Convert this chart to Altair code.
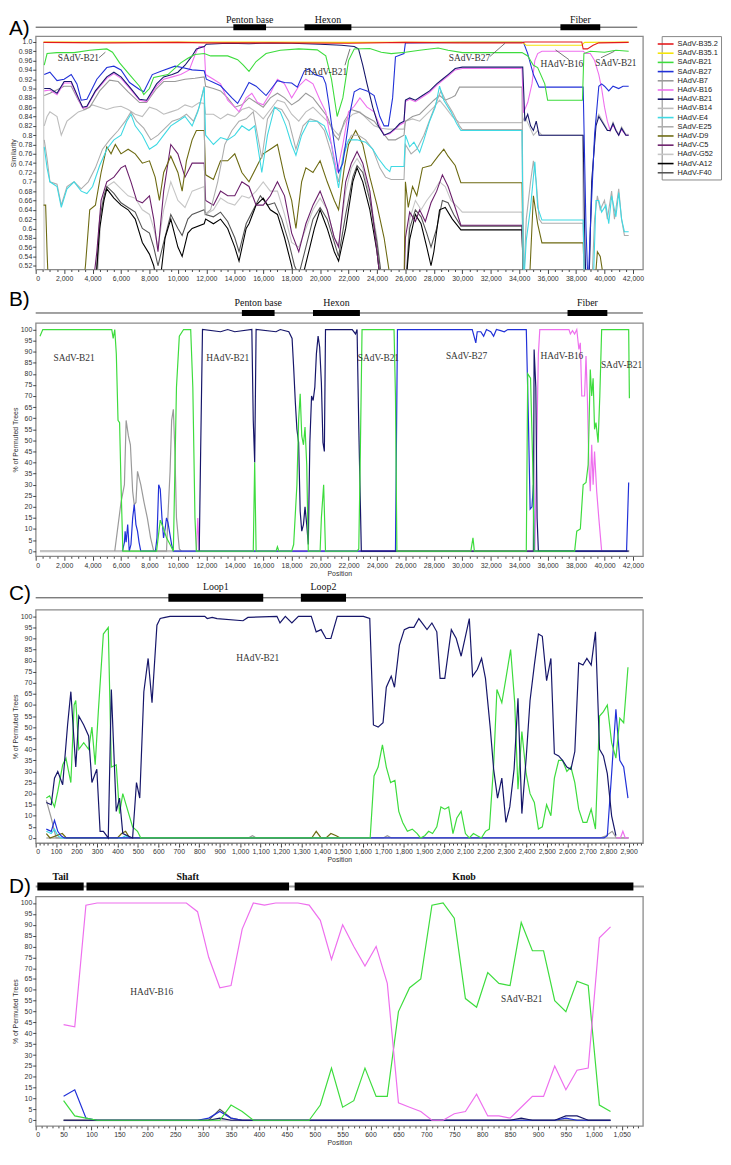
import altair as alt
import pandas as pd

SERIES = ["SAdV-B35.2", "SAdV-B35.1", "SAdV-B21", "SAdV-B27", "HAdV-B7", "HAdV-B16",
          "HAdV-B21", "HAdV-B14", "HAdV-E4", "SAdV-E25", "HAdV-D9", "HAdV-C5",
          "HAdV-G52", "HAdV-A12", "HAdV-F40"]
COLORS = ["#e41a1c", "#f4e40a", "#3ddc3d", "#2030d8", "#9a9a9a", "#ee6fee",
          "#16166a", "#bdbdbd", "#3fd9e3", "#adadad", "#6d6a12", "#6b1f6b",
          "#c6c6c6", "#000000", "#555555"]

# ---------------- Panel A (x in kb, similarity) ----------------
A_SADV_B35_2 = [(0.55, 0.999), (5, 0.998), (10, 0.999), (12, 0.998), (17, 0.998), (22, 0.997), (26, 0.999),
                (30, 0.998), (34.2, 0.998), (34.4, 1.0), (38.4, 1.0), (38.5, 0.985), (38.8, 0.985),
                (39.2, 0.993), (39.6, 0.998), (41.7, 0.999)]
A_SADV_B35_1 = [(0.55, 1.0), (12, 1.0), (22, 0.999), (34.2, 1.0), (34.5, 0.993), (38.4, 0.993),
                (38.6, 0.999), (41.7, 1.0)]
A_SADV_B21 = [(0.6, 0.95), (0.8, 0.975), (1.5, 0.977), (2.7, 0.977), (3.8, 0.982), (5.0, 0.985), (5.4, 0.978),
              (5.9, 0.955), (6.6, 0.93), (7.3, 0.905), (7.6, 0.887), (8.0, 0.9), (8.3, 0.924), (9.3, 0.93),
              (10.2, 0.955), (10.7, 0.965), (11.2, 0.973), (11.85, 0.975), (12.3, 0.97), (13.5, 0.97),
              (14.2, 0.962), (14.6, 0.95), (15.0, 0.937), (15.5, 0.958), (16.2, 0.975), (17.2, 0.982),
              (18.5, 0.985), (19.8, 0.983), (20.4, 0.97), (20.8, 0.92), (21.2, 0.84), (21.6, 0.88),
              (22.0, 0.96), (22.4, 0.985), (23.5, 0.986), (24.3, 0.978), (25.0, 0.975), (26.0, 0.978),
              (27.0, 0.982), (28.3, 0.987), (29.0, 0.982), (30.0, 0.977), (34.2, 0.977), (34.6, 0.97),
              (35.0, 0.95), (35.3, 0.945), (35.8, 0.91), (36.0, 0.875), (38.45, 0.875), (38.55, 0.975),
              (39.0, 0.98), (40.0, 0.978), (40.8, 0.982), (41.7, 0.98)]
A_SADV_B27 = [(0.6, 0.93), (1.0, 0.935), (1.5, 0.917), (2.0, 0.92), (2.5, 0.93), (2.9, 0.91), (3.2, 0.875),
              (3.6, 0.877), (4.3, 0.92), (5.0, 0.945), (5.5, 0.948), (6.0, 0.94), (6.6, 0.913), (7.3, 0.898),
              (7.6, 0.893), (8.2, 0.93), (8.9, 0.938), (9.8, 0.948), (10.3, 0.945), (11.0, 0.94),
              (11.85, 0.938), (12.0, 0.92), (13.0, 0.906), (13.8, 0.88), (14.2, 0.868), (14.6, 0.89),
              (15.0, 0.913), (15.5, 0.905), (16.2, 0.885), (16.7, 0.905), (17.0, 0.917), (17.5, 0.913),
              (18.0, 0.912), (18.4, 0.903), (18.9, 0.938), (19.2, 0.942), (19.6, 0.93), (20.2, 0.925),
              (20.4, 0.91), (20.6, 0.87), (21.0, 0.78), (21.3, 0.72), (21.6, 0.74), (22.1, 0.848),
              (22.4, 0.893), (22.8, 0.9), (23.3, 0.895), (23.8, 0.885), (24.2, 0.84), (24.5, 0.82),
              (24.8, 0.82), (25.1, 0.88), (25.3, 0.968), (25.9, 0.975), (26.0, 0.998), (30, 0.999),
              (34.3, 0.999), (34.6, 0.975), (35.0, 0.93), (35.4, 0.903), (38.5, 0.903), (38.7, 0.6),
              (38.85, 0.47), (39.0, 0.6), (39.3, 0.8), (39.6, 0.905), (39.8, 0.91), (40.0, 0.905),
              (40.3, 0.895), (40.6, 0.905), (41.0, 0.9), (41.3, 0.905), (41.7, 0.905)]
A_HADV_B21 = [(0.6, 0.90), (1.0, 0.90), (1.5, 0.89), (2.0, 0.915), (2.5, 0.915), (3.0, 0.88), (3.3, 0.86),
              (3.6, 0.862), (4.2, 0.895), (5.0, 0.925), (5.5, 0.935), (6.0, 0.925), (6.7, 0.90), (7.3, 0.877),
              (7.8, 0.875), (8.5, 0.91), (9.0, 0.925), (9.6, 0.93), (10.0, 0.935), (10.5, 0.95), (11.0, 0.97),
              (11.3, 0.985), (11.85, 0.99), (12.0, 0.995), (13.5, 0.997), (15, 0.996), (16.5, 0.998),
              (18.0, 0.997), (20, 0.995), (21.5, 0.993), (22.4, 0.99), (22.7, 0.985), (23.0, 0.95),
              (23.3, 0.91), (23.7, 0.86), (24.1, 0.82), (24.5, 0.80), (24.9, 0.805), (25.3, 0.815),
              (25.6, 0.825), (25.9, 0.83), (26.0, 0.875), (26.3, 0.88), (26.7, 0.875), (27.2, 0.885),
              (27.7, 0.895), (28.2, 0.91), (28.6, 0.92), (29.0, 0.93), (29.5, 0.943), (30, 0.946),
              (34.25, 0.946), (34.4, 0.83), (34.6, 0.845), (34.8, 0.82), (35.0, 0.81), (35.2, 0.83),
              (35.4, 0.80), (35.6, 0.80), (38.5, 0.80), (38.6, 0.6), (38.7, 0.47), (38.9, 0.47), (39.1, 0.7),
              (39.4, 0.82), (39.6, 0.84), (39.9, 0.825), (40.2, 0.81), (40.4, 0.81), (40.6, 0.825),
              (40.8, 0.81), (41.0, 0.80), (41.2, 0.815), (41.5, 0.80), (41.7, 0.80)]
A_HADV_B16 = [(0.6, 0.895), (1.0, 0.897), (1.5, 0.887), (2.0, 0.912), (2.5, 0.912), (3.0, 0.877), (3.3, 0.858),
              (3.6, 0.86), (4.2, 0.893), (5.0, 0.922), (5.5, 0.932), (6.0, 0.922), (6.7, 0.897), (7.3, 0.875),
              (7.8, 0.872), (8.5, 0.905), (9.0, 0.92), (9.6, 0.925), (10.2, 0.93), (10.8, 0.94), (11.3, 0.98),
              (11.5, 0.99), (11.85, 0.99), (11.95, 0.93), (12.5, 0.92), (13.0, 0.91), (13.5, 0.875),
              (14.0, 0.86), (14.3, 0.85), (14.8, 0.88), (15.2, 0.89), (15.6, 0.87), (16.0, 0.865),
              (16.5, 0.89), (17.0, 0.92), (17.5, 0.91), (18.0, 0.88), (18.5, 0.905), (19.0, 0.92),
              (19.5, 0.91), (20.0, 0.875), (20.4, 0.85), (20.8, 0.78), (21.2, 0.72), (21.6, 0.78),
              (22.0, 0.85), (22.4, 0.862), (22.8, 0.88), (23.3, 0.86), (23.8, 0.85), (24.2, 0.82),
              (24.5, 0.80), (24.9, 0.803), (25.3, 0.813), (25.6, 0.822), (25.9, 0.827), (26.0, 0.872),
              (26.3, 0.877), (26.7, 0.872), (27.2, 0.882), (27.7, 0.892), (28.2, 0.907), (28.6, 0.917),
              (29.0, 0.927), (29.5, 0.94), (30, 0.943), (34.2, 0.943), (34.3, 0.848), (34.6, 0.87),
              (34.9, 0.91), (35.1, 0.96), (35.3, 0.975), (35.6, 0.98), (38.5, 0.98), (38.7, 0.975),
              (39.0, 0.975), (39.3, 0.96), (39.6, 0.93), (39.8, 0.9), (40.0, 0.86), (40.2, 0.83),
              (40.4, 0.81), (40.6, 0.822), (40.8, 0.81), (41.0, 0.80), (41.2, 0.812), (41.5, 0.80), (41.7, 0.80)]
A_HADV_B7 = [(0.6, 0.885), (1.0, 0.89), (2.0, 0.905), (2.5, 0.905), (3.0, 0.875), (3.4, 0.855), (3.8, 0.86),
             (4.5, 0.895), (5.2, 0.918), (5.8, 0.915), (6.5, 0.893), (7.3, 0.87), (7.8, 0.87), (8.5, 0.9),
             (9.0, 0.915), (9.8, 0.915), (10.5, 0.92), (11.2, 0.922), (11.85, 0.925), (11.95, 0.905),
             (12.5, 0.90), (13.0, 0.895), (13.5, 0.88), (14.0, 0.86), (14.5, 0.865), (15.0, 0.88),
             (15.5, 0.87), (16.0, 0.86), (16.5, 0.88), (17.0, 0.89), (17.5, 0.88), (18.0, 0.865),
             (18.5, 0.875), (19.0, 0.89), (19.5, 0.88), (20.0, 0.86), (20.5, 0.84), (21.0, 0.80),
             (21.3, 0.79), (21.7, 0.83), (22.2, 0.855), (22.7, 0.85), (23.2, 0.84), (23.8, 0.83),
             (24.3, 0.81), (24.8, 0.79), (25.3, 0.79), (25.9, 0.80), (26.0, 0.83), (26.5, 0.84),
             (27.0, 0.845), (27.5, 0.86), (28.0, 0.875), (28.4, 0.885), (28.8, 0.875), (29.2, 0.88),
             (29.5, 0.885), (29.8, 0.903), (34.2, 0.903), (34.3, 0.47), (41.7, 0.47)]
A_HADV_B14 = [(0.6, 0.82), (0.8, 0.84), (1.0, 0.85), (1.5, 0.84), (1.8, 0.80), (2.2, 0.83), (2.6, 0.84),
              (3.0, 0.85), (3.5, 0.855), (4.0, 0.865), (4.5, 0.86), (5.0, 0.855), (5.5, 0.86), (6.0, 0.862),
              (6.5, 0.855), (7.0, 0.845), (7.5, 0.84), (8.0, 0.86), (8.5, 0.855), (9.0, 0.845), (9.5, 0.85),
              (10.0, 0.855), (10.5, 0.865), (11.0, 0.86), (11.5, 0.87), (11.85, 0.868), (11.95, 0.845),
              (12.5, 0.845), (13.0, 0.835), (13.5, 0.845), (14.0, 0.84), (14.5, 0.855), (15.0, 0.86),
              (15.5, 0.85), (16.0, 0.835), (16.5, 0.855), (17.0, 0.875), (17.5, 0.87), (18.0, 0.845),
              (18.5, 0.83), (19.0, 0.85), (19.5, 0.86), (20.0, 0.845), (20.5, 0.83), (21.0, 0.81),
              (21.3, 0.80), (21.8, 0.83), (22.3, 0.845), (22.8, 0.85), (23.3, 0.835), (23.8, 0.82),
              (24.3, 0.815), (24.8, 0.813), (25.9, 0.813), (26.0, 0.83), (26.5, 0.835), (27.0, 0.83),
              (27.5, 0.845), (28.0, 0.86), (28.4, 0.875), (28.8, 0.86), (29.3, 0.84), (29.8, 0.827),
              (34.2, 0.827), (34.4, 0.84), (34.7, 0.82), (35.0, 0.80), (35.3, 0.81), (35.6, 0.80),
              (38.45, 0.80), (38.55, 0.47), (38.9, 0.47), (39.1, 0.7), (39.4, 0.83), (39.6, 0.845),
              (39.9, 0.828), (40.2, 0.812), (40.4, 0.808), (40.6, 0.828), (40.8, 0.812), (41.0, 0.802),
              (41.2, 0.818), (41.5, 0.802), (41.7, 0.802)]
A_HADV_E4 = [(0.6, 0.775), (0.8, 0.73), (1.0, 0.70), (1.5, 0.69), (1.8, 0.645), (2.2, 0.685), (2.7, 0.70),
             (3.2, 0.68), (3.6, 0.675), (4.0, 0.69), (4.5, 0.735), (5.0, 0.77), (5.5, 0.79), (6.0, 0.80),
             (6.4, 0.83), (6.7, 0.845), (7.0, 0.82), (7.5, 0.80), (8.0, 0.77), (8.5, 0.78), (9.0, 0.80),
             (9.5, 0.82), (10.0, 0.83), (10.5, 0.84), (11.0, 0.82), (11.4, 0.85), (11.85, 0.903),
             (11.95, 0.80), (12.5, 0.78), (13.0, 0.795), (13.5, 0.79), (14.0, 0.80), (14.5, 0.82),
             (15.0, 0.81), (15.4, 0.82), (15.9, 0.72), (16.3, 0.80), (16.8, 0.86), (17.2, 0.85),
             (17.6, 0.82), (18.0, 0.78), (18.3, 0.757), (18.7, 0.80), (19.2, 0.83), (19.8, 0.83),
             (20.3, 0.82), (20.8, 0.78), (21.1, 0.72), (21.3, 0.687), (21.6, 0.75), (22.0, 0.79),
             (22.6, 0.79), (23.2, 0.785), (23.7, 0.77), (24.1, 0.75), (24.6, 0.73), (24.9, 0.722),
             (25.0, 0.733), (25.9, 0.733), (26.0, 0.80), (26.3, 0.775), (26.6, 0.785), (27.0, 0.763),
             (27.3, 0.79), (27.7, 0.83), (28.1, 0.86), (28.4, 0.905), (28.7, 0.875), (29.2, 0.85),
             (29.6, 0.825), (29.9, 0.81), (34.2, 0.81), (34.3, 0.47), (34.5, 0.575), (34.8, 0.645),
             (35.1, 0.743), (35.3, 0.645), (35.6, 0.618), (38.5, 0.618), (38.6, 0.47), (39.2, 0.47),
             (39.4, 0.66), (39.6, 0.66), (39.8, 0.635), (40.1, 0.65), (40.3, 0.61), (40.5, 0.67),
             (40.8, 0.625), (41.0, 0.677), (41.2, 0.62), (41.4, 0.593), (41.7, 0.593)]
A_SADV_E25 = [(0.6, 0.79), (0.8, 0.75), (1.0, 0.70), (1.5, 0.695), (1.8, 0.65), (2.2, 0.69), (2.7, 0.70),
              (3.2, 0.685), (3.7, 0.70), (4.2, 0.73), (4.7, 0.77), (5.2, 0.79), (5.8, 0.81), (6.3, 0.83),
              (6.7, 0.85), (7.1, 0.83), (7.6, 0.815), (8.1, 0.79), (8.6, 0.80), (9.1, 0.815), (9.6, 0.83),
              (10.1, 0.835), (10.6, 0.845), (11.1, 0.83), (11.5, 0.86), (11.85, 0.905), (11.9, 0.63),
              (12.3, 0.64), (12.8, 0.70), (13.3, 0.78), (13.8, 0.81), (14.3, 0.83), (14.8, 0.835),
              (15.3, 0.85), (15.9, 0.75), (16.3, 0.835), (16.8, 0.86), (17.3, 0.855), (17.8, 0.83),
              (18.3, 0.77), (18.8, 0.82), (19.3, 0.835), (19.8, 0.83), (20.3, 0.81), (20.8, 0.76),
              (21.3, 0.70), (21.7, 0.77), (22.2, 0.80), (22.7, 0.80), (23.2, 0.79), (23.7, 0.77),
              (24.2, 0.73), (24.6, 0.71), (25.0, 0.705), (25.9, 0.705), (26.0, 0.78), (26.4, 0.76),
              (26.8, 0.77), (27.3, 0.80), (27.8, 0.84), (28.3, 0.88), (28.5, 0.895), (28.9, 0.87),
              (29.3, 0.85), (29.8, 0.82), (30.0, 0.812), (34.2, 0.812), (34.3, 0.47), (34.5, 0.62),
              (34.8, 0.70), (35.0, 0.745), (35.2, 0.70), (35.4, 0.62), (35.6, 0.611), (38.5, 0.611),
              (38.6, 0.47), (39.1, 0.47), (39.3, 0.62), (39.5, 0.67), (39.7, 0.64), (40.0, 0.66),
              (40.2, 0.62), (40.5, 0.68), (40.7, 0.62), (41.0, 0.685), (41.2, 0.62), (41.4, 0.585), (41.7, 0.585)]
A_HADV_D9 = [(0.55, 0.65), (0.7, 0.65), (0.8, 0.55), (0.9, 0.47), (3.3, 0.47), (3.5, 0.52), (3.8, 0.64),
             (4.2, 0.65), (4.6, 0.72), (5.0, 0.775), (5.3, 0.76), (5.6, 0.78), (6.0, 0.76), (6.5, 0.77),
             (7.0, 0.76), (7.5, 0.74), (8.0, 0.745), (8.4, 0.71), (8.7, 0.66), (9.0, 0.72), (9.5, 0.755),
             (10.0, 0.72), (10.3, 0.68), (10.6, 0.745), (11.0, 0.79), (11.3, 0.81), (11.85, 0.81),
             (11.95, 0.715), (12.5, 0.705), (13.0, 0.745), (13.5, 0.745), (14.0, 0.76), (14.5, 0.72),
             (15.0, 0.70), (15.5, 0.73), (16.0, 0.76), (16.5, 0.77), (17.0, 0.78), (17.5, 0.71),
             (18.0, 0.66), (18.3, 0.60), (18.7, 0.70), (19.0, 0.73), (19.5, 0.72), (20.0, 0.745),
             (20.5, 0.70), (21.0, 0.66), (21.3, 0.64), (21.7, 0.73), (22.0, 0.78), (22.5, 0.81),
             (23.0, 0.78), (23.5, 0.71), (24.0, 0.65), (24.5, 0.58), (24.9, 0.50), (25.1, 0.47),
             (25.9, 0.47), (26.0, 0.70), (26.2, 0.645), (26.5, 0.69), (26.8, 0.67), (27.2, 0.73),
             (27.8, 0.735), (28.3, 0.755), (28.7, 0.77), (29.0, 0.755), (29.5, 0.735), (29.9, 0.698),
             (34.2, 0.698), (34.3, 0.47), (34.7, 0.47), (35.0, 0.67), (35.3, 0.61), (35.6, 0.569),
             (38.5, 0.569), (38.6, 0.47), (39.3, 0.47), (39.5, 0.55), (39.7, 0.54), (39.9, 0.5),
             (40.0, 0.47), (41.7, 0.47)]
A_HADV_C5 = [(4.0, 0.47), (4.3, 0.55), (4.6, 0.66), (5.0, 0.70), (5.5, 0.71), (6.0, 0.73), (6.3, 0.735),
             (6.7, 0.70), (7.1, 0.66), (7.5, 0.655), (8.0, 0.67), (8.3, 0.62), (8.6, 0.55), (9.0, 0.68),
             (9.5, 0.78), (10.0, 0.76), (10.5, 0.71), (11.0, 0.74), (11.85, 0.74), (11.95, 0.66),
             (12.5, 0.65), (13.0, 0.68), (13.5, 0.67), (14.0, 0.67), (14.5, 0.70), (15.0, 0.69),
             (15.5, 0.65), (16.0, 0.65), (16.5, 0.67), (17.0, 0.70), (17.5, 0.67), (18.0, 0.59),
             (18.5, 0.55), (19.0, 0.61), (19.5, 0.65), (20.0, 0.68), (20.5, 0.64), (21.0, 0.58),
             (21.3, 0.56), (21.8, 0.70), (22.2, 0.74), (22.6, 0.765), (23.0, 0.74), (23.5, 0.68),
             (24.0, 0.55), (24.3, 0.47), (25.9, 0.47), (26.0, 0.58), (26.3, 0.635), (26.7, 0.615),
             (27.0, 0.64), (27.4, 0.615), (27.8, 0.655), (28.2, 0.68), (28.6, 0.715), (29.0, 0.69),
             (29.5, 0.645), (29.9, 0.607), (34.2, 0.607), (34.3, 0.47), (41.7, 0.47)]
A_HADV_G52 = [(0.55, 1.0), (0.6, 0.47), (4.3, 0.47), (4.6, 0.63), (5.0, 0.69), (5.5, 0.70), (6.0, 0.685),
              (6.5, 0.67), (7.0, 0.665), (7.5, 0.64), (8.0, 0.63), (8.3, 0.60), (8.6, 0.56), (9.0, 0.64),
              (9.5, 0.70), (10.0, 0.66), (10.5, 0.645), (11.0, 0.68), (11.85, 0.69), (11.95, 0.63),
              (12.5, 0.64), (13.0, 0.665), (13.5, 0.655), (14.0, 0.65), (14.5, 0.67), (15.0, 0.665),
              (15.5, 0.68), (16.0, 0.70), (16.5, 0.68), (17.0, 0.68), (17.5, 0.63), (18.0, 0.57),
              (18.5, 0.56), (19.0, 0.60), (19.5, 0.64), (20.0, 0.665), (20.5, 0.64), (21.0, 0.58),
              (21.3, 0.565), (21.8, 0.68), (22.2, 0.73), (22.6, 0.75), (23.0, 0.73), (23.5, 0.67),
              (24.0, 0.58), (24.3, 0.50), (24.5, 0.47), (26.0, 0.47), (26.3, 0.62), (26.7, 0.66),
              (27.1, 0.64), (27.5, 0.66), (28.0, 0.68), (28.4, 0.70), (28.8, 0.69), (29.2, 0.66),
              (29.7, 0.645), (30.0, 0.635), (34.2, 0.635), (34.3, 0.47), (41.7, 0.47)]
A_HADV_A12 = [(4.2, 0.47), (4.5, 0.60), (4.8, 0.66), (5.0, 0.685), (5.5, 0.665), (6.0, 0.65), (6.5, 0.64),
              (7.0, 0.62), (7.5, 0.57), (8.0, 0.545), (8.3, 0.52), (8.6, 0.47), (8.8, 0.50), (9.1, 0.58),
              (9.5, 0.62), (10.0, 0.56), (10.3, 0.54), (10.7, 0.59), (11.0, 0.60), (11.85, 0.61),
              (11.95, 0.62), (12.5, 0.61), (13.0, 0.62), (13.5, 0.60), (14.0, 0.56), (14.3, 0.53),
              (14.8, 0.60), (15.0, 0.61), (15.5, 0.65), (16.0, 0.665), (16.5, 0.64), (17.0, 0.63),
              (17.5, 0.58), (18.0, 0.52), (18.3, 0.47), (18.8, 0.50), (19.2, 0.55), (19.6, 0.60),
              (20.0, 0.64), (20.5, 0.60), (21.0, 0.55), (21.3, 0.53), (21.8, 0.60), (22.3, 0.70),
              (22.6, 0.73), (23.0, 0.70), (23.5, 0.64), (24.0, 0.55), (24.3, 0.47), (26.0, 0.47),
              (26.3, 0.576), (26.7, 0.63), (27.1, 0.61), (27.5, 0.56), (27.8, 0.52), (28.0, 0.55),
              (28.4, 0.64), (28.8, 0.645), (29.3, 0.62), (29.9, 0.597), (34.2, 0.597), (34.3, 0.47), (41.7, 0.47)]
A_HADV_F40 = [(4.2, 0.47), (4.5, 0.62), (4.8, 0.67), (5.0, 0.69), (5.5, 0.675), (6.0, 0.655), (6.5, 0.645),
              (7.0, 0.635), (7.5, 0.60), (8.0, 0.59), (8.3, 0.56), (8.6, 0.52), (9.0, 0.57), (9.5, 0.63),
              (10.0, 0.60), (10.3, 0.585), (10.7, 0.62), (11.0, 0.63), (11.85, 0.64), (11.95, 0.63),
              (12.5, 0.625), (13.0, 0.635), (13.5, 0.615), (14.0, 0.58), (14.3, 0.55), (14.8, 0.61),
              (15.3, 0.64), (15.8, 0.67), (16.3, 0.65), (16.8, 0.655), (17.3, 0.62), (17.8, 0.57),
              (18.2, 0.52), (18.5, 0.50), (19.0, 0.56), (19.5, 0.62), (20.0, 0.645), (20.5, 0.62),
              (21.0, 0.57), (21.3, 0.54), (21.8, 0.63), (22.3, 0.71), (22.6, 0.735), (23.0, 0.72),
              (23.5, 0.66), (24.0, 0.57), (24.3, 0.5), (24.5, 0.47), (26.0, 0.47), (26.3, 0.60),
              (26.7, 0.64), (27.1, 0.625), (27.5, 0.59), (27.8, 0.56), (28.2, 0.60), (28.6, 0.66),
              (29.0, 0.655), (29.4, 0.63), (29.9, 0.605), (34.2, 0.605), (34.3, 0.47), (41.7, 0.47)]

A_DRAW = [("HAdV-G52", A_HADV_G52), ("HAdV-F40", A_HADV_F40), ("HAdV-A12", A_HADV_A12),
          ("HAdV-C5", A_HADV_C5), ("HAdV-D9", A_HADV_D9), ("HAdV-B14", A_HADV_B14),
          ("HAdV-B7", A_HADV_B7), ("SAdV-E25", A_SADV_E25), ("HAdV-E4", A_HADV_E4),
          ("HAdV-B16", A_HADV_B16), ("HAdV-B21", A_HADV_B21), ("SAdV-B27", A_SADV_B27),
          ("SAdV-B21", A_SADV_B21), ("SAdV-B35.1", A_SADV_B35_1), ("SAdV-B35.2", A_SADV_B35_2)]

A_GENES = ["Penton base", "Hexon", "Fiber"]
A_GENE_START = [13.9, 18.9, 36.9]
A_GENE_END = [16.2, 22.2, 39.7]
A_TRACK = [0.0, 42.3]
A_LABEL_TEXT = ["SAdV-B21", "HAdV-B21", "SAdV-B27", "HAdV-B16", "SAdV-B21"]
A_LABEL_X = [3.0, 20.4, 30.5, 37.0, 40.8]
A_LABEL_Y = [0.966, 0.935, 0.966, 0.952, 0.955]
A_LEAD_X1 = [4.45, 21.75, 31.95, 36.55, 39.75]
A_LEAD_Y1 = [0.966, 0.950, 0.969, 0.983, 0.966]
A_LEAD_X2 = [4.9, 22.1, 33.0, 37.5, 40.7]
A_LEAD_Y2 = [0.978, 0.985, 0.997, 0.962, 0.980]

# ---------------- Panel B (x in kb, % permuted trees) ----------------
B_SADV_B21 = [(0.3, 97), (0.5, 100), (5.35, 100), (5.45, 96), (5.56, 100), (5.67, 89), (5.79, 59), (5.9, 58),
              (6.0, 30), (6.13, 0), (8.5, 0), (8.76, 14), (9.0, 10), (9.2, 6), (9.45, 3), (9.68, 0),
              (9.9, 74), (10.1, 97), (10.4, 100), (10.9, 100), (11.05, 74), (11.2, 15), (11.3, 0),
              (15.3, 0), (15.4, 40), (15.5, 0), (16.9, 0), (17.0, 2), (17.1, 0), (18.0, 0), (18.14, 3),
              (18.37, 30), (18.49, 59), (18.6, 71), (18.71, 52), (18.83, 48), (18.94, 56), (19.06, 39),
              (19.17, 0), (20.0, 0), (20.09, 15), (20.25, 30), (20.38, 0), (22.6, 0), (22.72, 1),
              (22.83, 45), (22.95, 100), (25.2, 100), (25.3, 70), (25.4, 0), (30.6, 0), (30.75, 6),
              (30.85, 0), (34.5, 0), (34.6, 80), (34.8, 78), (34.95, 40), (35.05, 0), (37.9, 0),
              (38.05, 9), (38.3, 10), (38.5, 30), (38.7, 31), (38.85, 39), (39.0, 82), (39.1, 70),
              (39.2, 78), (39.3, 55), (39.4, 58), (39.55, 49), (39.67, 70), (39.8, 100), (41.7, 100), (41.75, 69)]
B_HADV_B21 = [(11.5, 0), (11.6, 45), (11.73, 100), (13.0, 99), (13.5, 100), (14.0, 99), (15.2, 100),
              (15.3, 59), (15.4, 40), (15.5, 100), (16.9, 99), (17.2, 100), (17.8, 99), (18.03, 96),
              (18.14, 83), (18.26, 67), (18.37, 55), (18.49, 49), (18.6, 18), (18.71, 9), (18.83, 12),
              (18.94, 20), (19.06, 12), (19.17, 3), (19.28, 49), (19.4, 70), (19.51, 68), (19.63, 74),
              (19.74, 89), (19.86, 97), (19.97, 92), (20.09, 76), (20.2, 49), (20.3, 45), (20.38, 100),
              (22.26, 100), (22.49, 98), (22.6, 100), (22.72, 56), (22.9, 0), (35.0, 0), (35.05, 91),
              (35.17, 74), (35.26, 15), (35.35, 0), (41.7, 0)]
B_SADV_B27 = [(6.1, 0), (6.24, 4), (6.29, 9), (6.36, 4), (6.47, 12), (6.58, 0), (6.7, 3), (6.82, 15),
              (6.93, 21), (7.05, 12), (7.16, 9), (7.27, 4), (7.39, 0), (8.42, 0), (8.53, 6), (8.65, 30),
              (8.76, 28), (8.88, 15), (8.99, 6), (9.1, 10), (9.2, 15), (9.3, 13), (9.56, 3), (9.68, 0),
              (25.3, 0), (25.44, 100), (30.7, 100), (30.95, 94), (31.05, 99), (31.3, 99), (31.5, 97),
              (31.7, 100), (32.0, 99), (32.2, 97), (32.4, 100), (32.7, 99.5), (32.95, 99), (33.2, 100),
              (34.5, 100), (34.65, 59), (34.77, 19), (34.9, 20), (35.0, 30), (35.05, 0), (41.55, 0), (41.7, 31)]
B_HADV_B16 = [(11.3, 0), (11.4, 15), (11.5, 0), (35.1, 0), (35.35, 89), (35.45, 100), (37.5, 100),
              (37.6, 98), (37.75, 99.5), (37.9, 98), (38.05, 100), (38.2, 91), (38.3, 94), (38.4, 70),
              (38.6, 70), (38.7, 88), (38.8, 68), (38.9, 39), (39.0, 27), (39.1, 48), (39.2, 30),
              (39.3, 45), (39.45, 27), (39.6, 15), (39.8, 0)]
B_HADV_B7 = [(5.56, 0), (6.0, 22), (6.24, 30), (6.36, 59), (6.52, 52), (6.66, 48), (6.82, 27), (6.93, 21),
             (7.05, 22), (7.16, 36), (7.39, 30), (7.62, 22), (7.85, 15), (8.08, 6), (8.3, 0), (9.2, 0),
             (9.3, 16), (9.45, 36), (9.56, 59), (9.68, 64), (9.79, 45), (9.9, 15), (10.1, 1), (10.25, 0)]
B_BASE = [(0.3, 0), (41.75, 0)]

B_GENES = ["Penton base", "Hexon", "Fiber"]
B_GENE_START = [14.5, 19.5, 37.4]
B_GENE_END = [16.8, 22.8, 40.2]
B_TRACK = [0.0, 42.7]
B_LABEL_TEXT = ["SAdV-B21", "HAdV-B21", "SAdV-B21", "SAdV-B27", "HAdV-B16", "SAdV-B21"]
B_LABEL_X = [2.7, 13.5, 24.1, 30.3, 37.0, 41.2]
B_LABEL_Y = [87, 87, 87, 88, 88, 84]

# ---------------- Panel C (position, % permuted trees) ----------------
C_HADV_B21 = [(52, 16), (76, 15), (92, 27), (108, 30), (132, 24), (156, 51), (172, 66), (196, 32), (211, 55),
              (235, 51), (259, 46), (275, 25), (299, 31), (315, 3), (331, 3), (355, 0), (370, 67), (394, 12),
              (410, 18), (426, 2), (474, 0), (493, 25), (509, 18), (529, 66), (550, 81), (569, 61), (593, 96),
              (609, 99), (633, 99.5), (657, 100), (827, 100), (839, 99), (863, 99.5), (887, 99), (1014, 98),
              (1038, 99.5), (1180, 100), (1195, 97), (1221, 100), (1253, 97), (1285, 100), (1348, 100),
              (1372, 93), (1396, 94), (1420, 90), (1444, 90), (1475, 100), (1603, 100), (1634, 99),
              (1652, 51), (1675, 50), (1699, 52), (1715, 68), (1739, 73), (1755, 68), (1779, 87), (1803, 94),
              (1827, 95), (1850, 95), (1874, 99), (1898, 96), (1914, 94), (1938, 97), (1962, 93), (1978, 72),
              (2001, 72), (2033, 94), (2057, 90), (2081, 82), (2121, 99), (2137, 73), (2160, 76), (2181, 81),
              (2200, 72), (2224, 49), (2240, 31), (2259, 18), (2280, 27), (2300, 7), (2319, 14), (2340, 31),
              (2359, 63), (2378, 11), (2399, 36), (2418, 62), (2439, 78), (2459, 92), (2478, 91), (2499, 71),
              (2520, 81), (2537, 38), (2558, 37), (2577, 35), (2598, 32), (2618, 31), (2637, 39), (2656, 79),
              (2677, 78), (2696, 81), (2717, 78), (2738, 93), (2758, 40), (2777, 37), (2796, 29), (2817, 10),
              (2838, 1)]
C_SADV_B21 = [(52, 18), (68, 19), (92, 14), (108, 21), (132, 33), (148, 36), (172, 25), (188, 60), (196, 62),
              (211, 40), (235, 43), (259, 40), (275, 50), (291, 33), (307, 58), (331, 92), (355, 95), (370, 32),
              (394, 33), (410, 11), (426, 20), (474, 5), (498, 3), (514, 0), (1636, 0), (1655, 28), (1675, 32),
              (1696, 42), (1715, 32), (1736, 25), (1757, 26), (1776, 12), (1795, 7), (1818, 3), (1842, 4),
              (1866, 2), (1882, 0), (1903, 1), (1922, 3), (1941, 2), (1962, 5), (1982, 14), (2001, 13),
              (2020, 14), (2041, 2), (2060, 9), (2081, 12), (2102, 2), (2121, 0), (2141, 2), (2160, 1),
              (2180, 0), (2200, 3), (2219, 4), (2240, 33), (2256, 67), (2280, 61), (2300, 72), (2323, 85),
              (2343, 61), (2359, 22), (2378, 48), (2399, 29), (2418, 20), (2439, 16), (2459, 4), (2478, 5),
              (2499, 15), (2520, 10), (2537, 27), (2558, 35), (2577, 35), (2598, 30), (2618, 32), (2637, 25),
              (2656, 13), (2677, 7), (2696, 7), (2717, 13), (2738, 4), (2758, 55), (2777, 57), (2796, 60),
              (2817, 43), (2838, 36), (2857, 54), (2876, 52), (2897, 77)]
C_SADV_B27 = [(52, 4), (76, 3), (92, 8), (108, 3), (124, 1), (140, 0), (2780, 0), (2796, 1), (2817, 29),
              (2838, 58), (2857, 35), (2876, 32), (2897, 18)]
C_HADV_B7 = [(52, 17), (76, 9), (100, 0), (1040, 0), (1060, 1), (1080, 0), (1700, 0), (1720, 1), (1740, 0),
             (2760, 0), (2790, 1), (2820, 3), (2840, 0), (2900, 0)]
C_HADV_E4 = [(52, 3), (76, 2), (92, 4), (108, 1), (124, 0), (420, 0), (440, 1), (460, 0)]
C_HADV_D9 = [(52, 2), (70, 0), (130, 2), (150, 0), (400, 0), (420, 2), (440, 3), (460, 0), (1350, 0),
             (1372, 3), (1396, 0), (1420, 0), (1444, 2), (1470, 1), (1490, 0)]
C_HADV_B16 = [(2840, 0), (2860, 0), (2872, 3), (2884, 0), (2900, 0)]
C_BASE = [(52, 0), (2900, 0)]

C_GENES = ["Loop1", "Loop2"]
C_GENE_START = [649, 1297]
C_GENE_END = [1113, 1518]
C_TRACK = [0, 2970]
C_LABEL_TEXT = ["HAdV-B21"]
C_LABEL_X = [1086]
C_LABEL_Y = [81]

# ---------------- Panel D (position, % permuted trees) ----------------
D_HADV_B16 = [(50, 44), (70, 43), (90, 99), (110, 100), (130, 100), (150, 100), (170, 100), (190, 100),
              (210, 100), (230, 100), (250, 100), (270, 100), (290, 96), (310, 75), (330, 61), (350, 62),
              (370, 88), (390, 100), (410, 99), (430, 100), (450, 100), (470, 100), (490, 99), (510, 92),
              (530, 74), (550, 90), (570, 80), (590, 71), (610, 80), (630, 63), (650, 8), (670, 6),
              (690, 4), (710, 0), (730, 0), (750, 3), (770, 4), (790, 12), (810, 2), (830, 2), (850, 1),
              (870, 6), (890, 11), (910, 11), (930, 25), (950, 14), (970, 23), (990, 24), (1010, 84), (1030, 89)]
D_SADV_B21 = [(50, 9), (70, 2), (90, 1), (110, 0), (330, 0), (350, 7), (370, 4), (390, 0), (490, 0),
              (510, 7), (530, 24), (550, 6), (570, 9), (590, 24), (610, 11), (630, 11), (650, 50), (670, 61),
              (690, 65), (710, 99), (730, 100), (750, 93), (770, 56), (790, 52), (810, 68), (830, 63),
              (850, 62), (870, 91), (890, 78), (910, 78), (930, 55), (950, 50), (970, 64), (990, 62),
              (1010, 7), (1030, 4)]
D_SADV_B27 = [(50, 11), (70, 14), (90, 1), (110, 0), (290, 0), (310, 1), (330, 4), (350, 1), (370, 0),
              (930, 0), (950, 1), (970, 0), (1030, 0)]
D_HADV_F40 = [(50, 0), (310, 0), (330, 5), (350, 1), (370, 0), (1030, 0)]
D_HADV_B21 = [(50, 0), (310, 0), (330, 1), (350, 0), (850, 0), (870, 1), (890, 0), (930, 0), (950, 2),
              (970, 2), (990, 0), (1030, 0)]
D_BASE = [(50, 0), (1030, 0)]

D_GENES = ["Tail", "Shaft", "Knob"]
D_GENE_START = [3, 91, 464]
D_GENE_END = [86, 454, 1071]
D_TRACK = [0, 1090]
D_LABEL_TEXT = ["HAdV-B16", "SAdV-B21"]
D_LABEL_X = [208, 871]
D_LABEL_Y = [59, 56]

W = 614
SERIF = "Liberation Serif"
SANS = "Liberation Sans"


def frame(named, xmul=1.0):
    rows = []
    for k, (name, pts) in enumerate(named):
        for x, y in pts:
            rows.append({"series": name, "x": x * xmul, "y": y, "k": k})
    return pd.DataFrame(rows)


def x_axis(values, major, title):
    return alt.Axis(values=values, title=title, grid=False, domain=False,
                    labelExpr=f"datum.value % {major} === 0 ? format(datum.value, ',') : ''",
                    tickSize={"condition": {"test": f"datum.value % {major} === 0", "value": 4}, "value": 2},
                    labelOverlap=False, labelFont=SANS, labelFontSize=7, labelColor="#333",
                    titleFont=SANS, titleFontSize=7, titleFontWeight="normal", titleColor="#333",
                    labelPadding=1, titlePadding=1, tickColor="#444")


def y_axis(values, title, expr=None):
    kw = dict(values=values, title=title, grid=False, domain=False, tickSize=3, labelOverlap=False,
              labelFont=SANS, labelFontSize=7, labelColor="#333", titleFont=SANS, titleFontSize=7,
              titleFontWeight="normal", titleColor="#333", labelPadding=1, titlePadding=2, tickColor="#444")
    if expr:
        kw["labelExpr"] = expr
    return alt.Axis(**kw)


def panel(df, xs, ys, xax, yax, genes, gstart, gend, track, lab_text, lab_x, lab_y, letter,
          letter_y, lab_dy, bar_c, bar_h, height, xmul=1.0, legend=None, clip=False, base=None,
          track_color="#444", track_w=1.0, gene_bold=False, leaders=None, sw=1.2):
    color = alt.Color("series:N", scale=alt.Scale(domain=SERIES, range=COLORS),
                      legend=legend if legend is not None else None)
    layers = []
    if base is not None:
        layers.append(alt.Chart(base).mark_line(strokeWidth=2.2, color="#c2c2c2").encode(
            x=alt.X("x:Q", scale=xs, axis=xax), y=alt.Y("y:Q", scale=ys, axis=yax)))
    layers.append(alt.Chart(df).mark_line(strokeWidth=sw, clip=clip).encode(
        x=alt.X("x:Q", scale=xs, axis=xax), y=alt.Y("y:Q", scale=ys, axis=yax),
        color=color, detail="series:N"))
    tdf = pd.DataFrame({"s": [track[0] * xmul], "e": [track[1] * xmul]})
    layers.append(alt.Chart(tdf).mark_rule(color=track_color, strokeWidth=track_w).encode(
        x=alt.X("s:Q", scale=xs, axis=xax), x2="e:Q", y=alt.value(bar_c)))
    gdf = pd.DataFrame({"g": genes, "s": [v * xmul for v in gstart], "e": [v * xmul for v in gend]})
    gdf["m"] = (gdf["s"] + gdf["e"]) / 2
    layers.append(alt.Chart(gdf).mark_rect(color="black").encode(
        x=alt.X("s:Q", scale=xs, axis=xax), x2="e:Q",
        y=alt.value(bar_c - bar_h / 2), y2=alt.value(bar_c + bar_h / 2)))
    layers.append(alt.Chart(gdf).mark_text(font=SERIF, fontSize=10, color="#111", baseline="middle",
                                           fontWeight="bold" if gene_bold else "normal").encode(
        x=alt.X("m:Q", scale=xs, axis=xax), y=alt.value(lab_dy), text="g:N"))
    ldf = pd.DataFrame({"t": lab_text, "x": [v * xmul for v in lab_x], "y": lab_y})
    layers.append(alt.Chart(ldf).mark_text(font=SERIF, fontSize=9.5, color="#333", baseline="middle").encode(
        x=alt.X("x:Q", scale=xs, axis=xax), y=alt.Y("y:Q", scale=ys, axis=yax), text="t:N"))
    if leaders is not None:
        layers.append(alt.Chart(leaders).mark_rule(color="#555", strokeWidth=0.8).encode(
            x=alt.X("x1:Q", scale=xs, axis=xax), x2="x2:Q",
            y=alt.Y("y1:Q", scale=ys, axis=yax), y2="y2:Q"))
    let = pd.DataFrame({"t": [letter]})
    layers.append(alt.Chart(let).mark_text(font=SANS, fontSize=21, color="black", align="left",
                                           baseline="top").encode(
        x=alt.value(-27), y=alt.value(letter_y), text="t:N"))
    return alt.layer(*layers).properties(width=W, height=height)


# ---------- Panel A ----------
dfA = frame(A_DRAW, 1000)
xsA = alt.Scale(domain=[0, 42700], nice=False, zero=False)
ysA = alt.Scale(domain=[0.512, 1.0125], nice=False, zero=False)
A_TICKS_Y = [round(0.52 + 0.02 * i, 2) for i in range(25)]
xaxA = x_axis(list(range(0, 42001, 500)), 2000, None)
yaxA = y_axis(A_TICKS_Y, "Similarity", "datum.value > 0.999 ? '1.0' : format(datum.value, '.2~f')")
leadA = pd.DataFrame({"x1": [v * 1000 for v in A_LEAD_X1], "x2": [v * 1000 for v in A_LEAD_X2],
                      "y1": A_LEAD_Y1, "y2": A_LEAD_Y2})
legA = alt.Legend(orient="right", offset=19, title=None, symbolType="M-3,0H1",
                  symbolSize=64, symbolStrokeWidth=1.6, symbolFillColor="transparent",
                  labelFont=SANS, labelFontSize=7.5, labelColor="#222", rowPadding=0.3,
                  strokeColor="#888", fillColor="white", padding=3, labelOffset=3)
chartA = panel(dfA, xsA, ysA, xaxA, yaxA, A_GENES, A_GENE_START, A_GENE_END, A_TRACK,
               A_LABEL_TEXT, A_LABEL_X, A_LABEL_Y, "A)", -18, -16, -9, 6, 236, xmul=1000,
               legend=legA, clip=True, leaders=leadA, sw=1.1)

# ---------- Panel B ----------
dfB = frame([("HAdV-B7", B_HADV_B7), ("HAdV-B16", B_HADV_B16), ("SAdV-B27", B_SADV_B27),
             ("HAdV-B21", B_HADV_B21), ("SAdV-B21", B_SADV_B21)], 1000)
baseB = frame([("HAdV-B14", B_BASE)], 1000)
xsB = alt.Scale(domain=[0, 42700], nice=False, zero=False)
PCT_TICKS = list(range(0, 101, 5))
ysB = alt.Scale(domain=[-2.3, 103], nice=False, zero=False)
xaxB = x_axis(list(range(0, 42001, 500)), 2000, "Position")
yaxP = y_axis(PCT_TICKS, "% of Permuted Trees")
chartB = panel(dfB, xsB, ysB, xaxB, yaxP, B_GENES, B_GENE_START, B_GENE_END, B_TRACK,
               B_LABEL_TEXT, B_LABEL_X, B_LABEL_Y, "B)", -34, -20, -10, 6, 236, xmul=1000, base=baseB)

# ---------- Panel C ----------
dfC = frame([("HAdV-B7", C_HADV_B7), ("HAdV-E4", C_HADV_E4), ("HAdV-D9", C_HADV_D9),
             ("HAdV-B16", C_HADV_B16), ("SAdV-B27", C_SADV_B27), ("SAdV-B21", C_SADV_B21),
             ("HAdV-B21", C_HADV_B21)])
baseC = frame([("HAdV-B14", C_BASE)])
xsC = alt.Scale(domain=[0, 2970], nice=False, zero=False)
ysC = alt.Scale(domain=[-2.3, 103], nice=False, zero=False)
xaxC = x_axis(list(range(0, 2961, 20)), 100, "Position")
chartC = panel(dfC, xsC, ysC, xaxC, yaxP, C_GENES, C_GENE_START, C_GENE_END, C_TRACK,
               C_LABEL_TEXT, C_LABEL_X, C_LABEL_Y, "C)", -27, -23, -12, 8, 236, base=baseC)

# ---------- Panel D ----------
dfD = frame([("HAdV-F40", D_HADV_F40), ("SAdV-B27", D_SADV_B27), ("HAdV-B21", D_HADV_B21),
             ("SAdV-B21", D_SADV_B21), ("HAdV-B16", D_HADV_B16)])
baseD = frame([("HAdV-B14", D_BASE)])
xsD = alt.Scale(domain=[0, 1088], nice=False, zero=False)
ysD = alt.Scale(domain=[-2.6, 103], nice=False, zero=False)
xaxD = x_axis(list(range(0, 1081, 10)), 50, "Position")
chartD = panel(dfD, xsD, ysD, xaxD, yaxP, D_GENES, D_GENE_START, D_GENE_END, D_TRACK,
               D_LABEL_TEXT, D_LABEL_X, D_LABEL_Y, "D)", -20, -20, -10, 8, 232, base=baseD,
               track_color="#999", track_w=2, gene_bold=True)

chart = alt.vconcat(chartA, chartB, chartC, chartD, spacing=54, bounds="flush").resolve_scale(
    x="independent", y="independent", color="independent"
).properties(padding=0).configure_view(stroke="#8a8a8a", strokeWidth=1.3)

chart.save("out.html", embed_options={"renderer": "svg", "actions": False})
